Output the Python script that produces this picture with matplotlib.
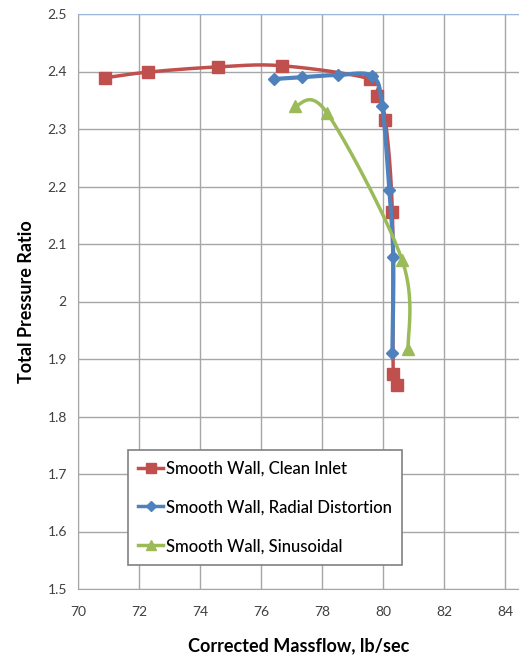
import numpy as np
import matplotlib
matplotlib.use("Agg")
import matplotlib.pyplot as plt
from matplotlib.lines import Line2D

plt.rcParams['font.family'] = ['Lato', 'DejaVu Sans']

# Compressor map data: corrected massflow (lb/sec) vs total pressure ratio
clean_x = [70.89, 72.30, 74.59, 76.69, 79.57, 79.80, 80.07, 80.30, 80.33, 80.46]
clean_y = [2.389, 2.399, 2.408, 2.410, 2.387, 2.357, 2.316, 2.156, 1.874, 1.855]

radial_x = [76.43, 77.34, 78.52, 79.64, 79.97, 80.20, 80.33, 80.30]
radial_y = [2.387, 2.390, 2.394, 2.392, 2.340, 2.194, 2.077, 1.910]

sinus_x = [77.11, 78.16, 80.62, 80.82]
sinus_y = [2.340, 2.328, 2.072, 1.917]

labels = ["Smooth Wall, Clean Inlet",
          "Smooth Wall, Radial Distortion",
          "Smooth Wall, Sinusoidal"]
colors = ["#C0504D", "#4F81BD", "#9BBB59"]
markers = ["s", "D", "^"]
msizes = [8, 6, 8]

x_ticks = [70, 72, 74, 76, 78, 80, 82, 84]
y_ticks = [1.5, 1.6, 1.7, 1.8, 1.9, 2.0, 2.1, 2.2, 2.3, 2.4, 2.5]

W, H = 519, 655
fig = plt.figure(figsize=(W / 100, H / 100), dpi=100)
ax = fig.add_axes([78 / W, (H - 589) / H, (W - 78) / W, (589 - 14) / H])
ax.set_xlim(70, 84.45)
ax.set_ylim(1.5, 2.5)
ax.set_xticks(x_ticks)
ax.set_yticks(y_ticks)
ax.set_yticklabels([("%g" % v) for v in y_ticks])
ax.tick_params(length=0, labelsize=10, colors="#404040", pad=8)
ax.tick_params(axis='x', pad=12)
ax.grid(True, color="#A6A6A6", lw=1)
ax.set_axisbelow(True)
for s in ("left", "bottom"):
    ax.spines[s].set_color("#A6A6A6")
ax.spines["right"].set_visible(False)
ax.spines["top"].set_color("#9DB7D9")


def smooth(xs, ys, n=30):
    # Bezier smoothing (Catmull-Rom tangents) computed in display space
    pts = ax.transData.transform(np.column_stack([xs, ys]))
    P = np.vstack([pts[0], pts, pts[-1]])
    out = []
    t = np.linspace(0, 1, n)[:, None]
    for i in range(1, len(P) - 2):
        p0, p1, p2, p3 = P[i - 1], P[i], P[i + 1], P[i + 2]
        c1 = p1 + (p2 - p0) / 6
        c2 = p2 - (p3 - p1) / 6
        seg = ((1 - t) ** 3) * p1 + 3 * ((1 - t) ** 2) * t * c1 + 3 * (1 - t) * t ** 2 * c2 + t ** 3 * p2
        out.append(seg)
    curve = np.vstack(out)
    d = ax.transData.inverted().transform(curve)
    return d[:, 0], d[:, 1]


handles = []
series = [(clean_x, clean_y), (radial_x, radial_y), (sinus_x, sinus_y)]
widths = [2.5, 3.0, 2.5]
for k, (xs, ys) in enumerate(series):
    sx, sy = smooth(xs, ys)
    ax.plot(sx, sy, color=colors[k], lw=widths[k], zorder=3 + k, solid_capstyle='round')
    ax.plot(xs, ys, ls='none', marker=markers[k], ms=msizes[k],
            color=colors[k], mec=colors[k], zorder=3 + k)
    handles.append(Line2D([], [], color=colors[k], lw=2.5, marker=markers[k],
                          ms=msizes[k] - 1))

leg = ax.legend(handles, labels, loc='upper left',
                bbox_to_anchor=((128 - 78) / (W - 78), (589 - 450) / (589 - 14)),
                prop={'size': 12, 'weight': 'medium'},
                frameon=True, fancybox=False, framealpha=1,
                edgecolor="#808080", handlelength=1.5, handletextpad=0.15,
                labelspacing=1.38, borderpad=0.62, borderaxespad=0)
leg.get_frame().set_linewidth(1.2)
leg.set_zorder(10)

ax.set_xlabel("Corrected Massflow, lb/sec", fontsize=13, fontweight='bold',
              labelpad=14)
ax.set_ylabel("Total Pressure Ratio", fontsize=13, fontweight='bold',
              labelpad=9)

fig.savefig("out.png", dpi=100)
